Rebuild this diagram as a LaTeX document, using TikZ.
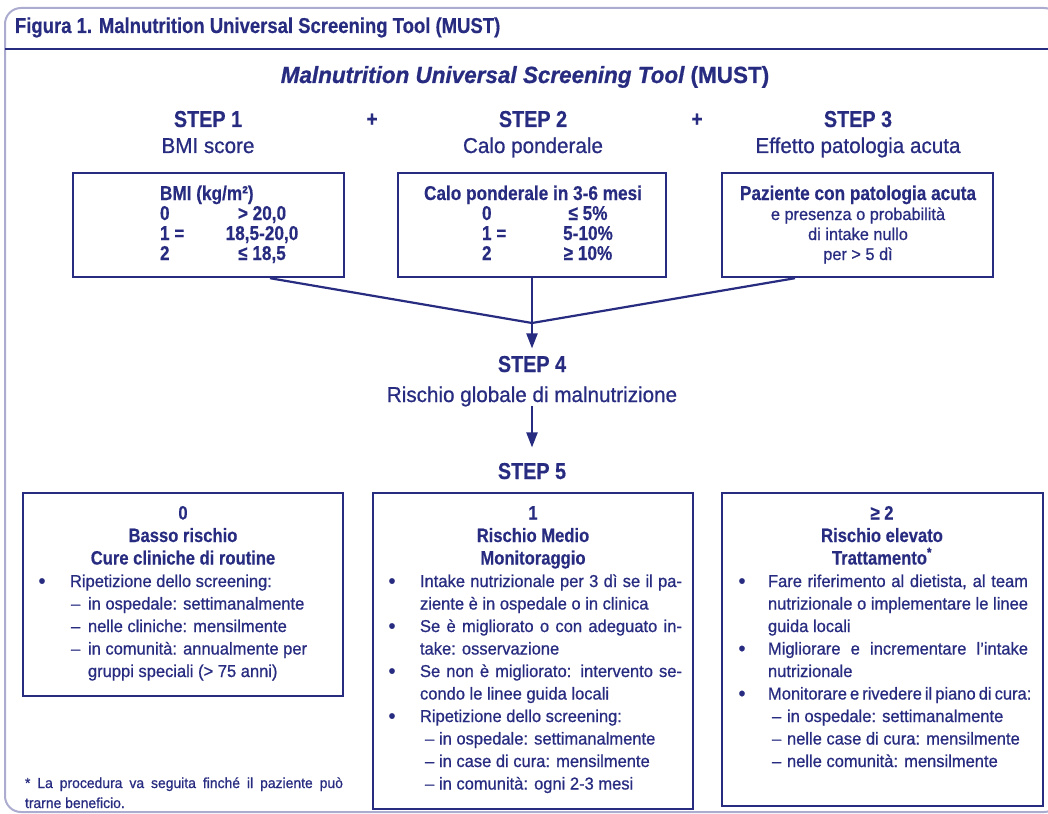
\documentclass[tikz,border=0pt]{standalone}
\usepackage{fontspec}
\setmainfont{Liberation Sans}[FakeStretch=0.96, FakeBold=0.8]
\newfontfamily\cnd{Liberation Sans}[FakeStretch=0.86, FakeBold=0.4]
\usetikzlibrary{arrows.meta}
\definecolor{navy}{RGB}{40,44,128}
\definecolor{lav}{RGB}{172,172,208}
\newcommand\fs[2]{\fontsize{#1}{#2}\selectfont}
\newcommand\bd{\fs{17.2}{20}}
\newcommand\bh{\cnd\bfseries\fs{19.3}{22}}
\newcommand\tb{\cnd\bfseries\fs{20}{22}}
\newcommand\jl[2]{\makebox[#1][s]{#2}}
\begin{document}
\begin{tikzpicture}[x=1pt,y=-1pt,
 txt/.style={text=navy, inner sep=0pt, outer sep=0pt},
 bl/.style={txt, anchor=base west, font=\bd},
 bul/.style={txt, anchor=base, font=\fs{21}{22}},
 bc/.style={txt, anchor=base, font=\bh},
 tl/.style={txt, anchor=base west, font=\tb},
 tc/.style={txt, anchor=base, font=\tb},
 boxn/.style={draw=navy, line width=2.4pt, inner sep=0pt},
 conn/.style={draw=navy, line width=2.2pt},
 arr/.style={conn, -{Triangle[width=11pt,length=15pt]}},
]
\useasboundingbox (0,0) rectangle (1048,813);
\clip (0,0) rectangle (1048,813);
\draw[lav, line width=2pt, rounded corners=16pt] (5,8) rectangle (1060,812);
\draw[navy, line width=1.4pt] (5,49) -- (1048,49);

% header and title
\node[txt, anchor=base west, font=\cnd\bfseries\fs{21.5}{24}] (hdr) at (15,33) {Figura 1. Malnutrition Universal Screening Tool (MUST)};
\node[txt, anchor=base, font=\bfseries\fs{23.4}{26}] (ttl) at (525,83) {\itshape Malnutrition Universal Screening Tool \upshape(MUST)};

% steps 1-3
\node[txt, anchor=base, font=\cnd\bfseries\fs{23}{26}] (s1) at (208,127) {STEP 1};
\node[txt, anchor=base, font=\fs{21.5}{24}] (s1b) at (208,153) {BMI score};
\node[txt, anchor=base, font=\cnd\bfseries\fs{23}{26}] (s2) at (533,127) {STEP 2};
\node[txt, anchor=base, font=\fs{21.5}{24}] (s2b) at (533,153) {Calo ponderale};
\node[txt, anchor=base, font=\cnd\bfseries\fs{23}{26}] (s3) at (858,127) {STEP 3};
\node[txt, anchor=base, font=\fs{21.5}{24}] (s3b) at (858,153) {Effetto patologia acuta};
\node[txt, font=\cnd\bfseries\fs{22}{24}] (p1) at (372,120) {+};
\node[txt, font=\cnd\bfseries\fs{22}{24}] (p2) at (697,120) {+};

% top boxes
\node[boxn, minimum width=271pt, minimum height=104pt] (b1) at (208.5,225) {};
\node[boxn, minimum width=268pt, minimum height=104pt] (b2) at (532,225) {};
\node[boxn, minimum width=271pt, minimum height=104pt] (b3) at (857.5,225) {};

\node[tl] (b1h) at (160,200) {BMI (kg/m²)};
\node[tl] (b1r0) at (160,220) {0};
\node[tl] (b1r1) at (160,240) {1 =};
\node[tl] (b1r2) at (160,260) {2};
\node[tc] (b1v0) at (262,220) {> 20,0};
\node[tc] (b1v1) at (262,240) {18,5-20,0};
\node[tc] (b1v2) at (262,260) {≤ 18,5};

\node[tc] (b2h) at (533,200) {Calo ponderale in 3-6 mesi};
\node[tl] (b2r0) at (482,220) {0};
\node[tl] (b2r1) at (482,240) {1 =};
\node[tl] (b2r2) at (482,260) {2};
\node[tc] (b2v0) at (588,220) {≤ 5\%};
\node[tc] (b2v1) at (588,240) {5-10\%};
\node[tc] (b2v2) at (588,260) {≥ 10\%};

\node[tc] (b3h) at (858,200) {Paziente con patologia acuta};
\node[txt, anchor=base, font=\fs{17}{20}] (b3l1) at (858,220) {e presenza o probabilità};
\node[txt, anchor=base, font=\fs{17}{20}] (b3l2) at (858,240) {di intake nullo};
\node[txt, anchor=base, font=\fs{17}{20}] (b3l3) at (858,260) {per > 5 dì};

% steps 4-5
\node[txt, anchor=base, font=\cnd\bfseries\fs{23}{26}] (s4) at (532,372) {STEP 4};
\node[txt, anchor=base, font=\fs{21.5}{24}] (rg) at (532,402) {Rischio globale di malnutrizione};
\node[txt, anchor=base, font=\cnd\bfseries\fs{23}{26}] (s5) at (532,479) {STEP 5};

\coordinate (j) at (532,323);
\draw[conn] ([xshift=61.5pt]b1.south) -- (j);
\draw[conn] ([xshift=-62.5pt]b3.south) -- (j);
\draw[arr] (b2.south) -- ([yshift=7.5pt]s4.north);
\draw[arr] (rg.south) -- ([yshift=15.5pt]s5.north);

% bottom boxes
\node[boxn, minimum width=320pt, minimum height=203pt] (bA) at (183,594.5) {};
\node[boxn, minimum width=320pt, minimum height=316pt] (bB) at (533,651) {};
\node[boxn, minimum width=321pt, minimum height=313pt] (bC) at (882.5,649.5) {};

% box A
\node[bc] (a0) at (183,519.5) {0};
\node[bc] (a1) at (183,542) {Basso rischio};
\node[bc] (a2) at (183,564.5) {Cure cliniche di routine};
\node[bul] (a3b) at (42,588) {•};
\node[bl] (a3) at (70,587) {Ripetizione dello screening:};
\node[bl] (a4d) at (71,609.5) {–};
\node[bl] (a4) at (88,609.5) {in ospedale: settimanalmente};
\node[bl] (a5d) at (71,632) {–};
\node[bl] (a5) at (88,632) {nelle cliniche: mensilmente};
\node[bl] (a6d) at (71,654.5) {–};
\node[bl] (a6) at (88,654.5) {in comunità: annualmente per};
\node[bl] (a7) at (88,677) {gruppi speciali (> 75 anni)};

% box B
\node[bc] (m0) at (533,519.5) {1};
\node[bc] (m1) at (533,542) {Rischio Medio};
\node[bc] (m2) at (533,564.5) {Monitoraggio};
\node[bul] (m3b) at (392,588) {•};
\node[bl] (m3) at (420,587) {\jl{262pt}{Intake nutrizionale per 3 dì se il pa-}};
\node[bl] (m4) at (420,609.5) {ziente è in ospedale o in clinica};
\node[bul] (m5b) at (392,633) {•};
\node[bl] (m5) at (420,632) {\jl{262pt}{Se è migliorato o con adeguato in-}};
\node[bl] (m6) at (420,654.5) {take: osservazione};
\node[bul] (m7b) at (392,678) {•};
\node[bl] (m7) at (420,677) {\jl{262pt}{Se non è migliorato: intervento se-}};
\node[bl] (m8) at (420,699.5) {condo le linee guida locali};
\node[bul] (m9b) at (392,723) {•};
\node[bl] (m9) at (420,722) {Ripetizione dello screening:};
\node[bl] (m10d) at (425,744.5) {–};
\node[bl] (m10) at (439,744.5) {in ospedale: settimanalmente};
\node[bl] (m11d) at (425,767) {–};
\node[bl] (m11) at (439,767) {in case di cura: mensilmente};
\node[bl] (m12d) at (425,789.5) {–};
\node[bl] (m12) at (439,789.5) {in comunità: ogni 2-3 mesi};

% box C
\node[bc] (h0) at (882,519.5) {≥ 2};
\node[bc] (h1) at (882,542) {Rischio elevato};
\node[bc] (h2) at (882,564.5) {Trattamento\textsuperscript{*}};
\node[bul] (h3b) at (742,588) {•};
\node[bl] (h3) at (768,587) {\jl{260pt}{Fare riferimento al dietista, al team}};
\node[bl] (h4) at (768,609.5) {\jl{260pt}{nutrizionale o implementare le linee}};
\node[bl] (h5) at (768,632) {guida locali};
\node[bul] (h6b) at (742,655.5) {•};
\node[bl] (h6) at (768,654.5) {\jl{260pt}{Migliorare e incrementare l’intake}};
\node[bl] (h7) at (768,677) {nutrizionale};
\node[bul] (h8b) at (742,700.5) {•};
\node[bl] (h8) at (768,699.5) {\jl{260pt}{Monitorare e rivedere il piano di cura:}};
\node[bl] (h9d) at (772,722) {–};
\node[bl] (h9) at (787,722) {in ospedale: settimanalmente};
\node[bl] (h10d) at (772,744.5) {–};
\node[bl] (h10) at (787,744.5) {nelle case di cura: mensilmente};
\node[bl] (h11d) at (772,767) {–};
\node[bl] (h11) at (787,767) {nelle comunità: mensilmente};

% footnote
\node[txt, anchor=base west, font=\fs{14.5}{17}] (fn1) at (25,788) {\jl{318pt}{* La procedura va seguita finché il paziente può}};
\node[txt, anchor=base west, font=\fs{14.5}{17}] (fn2) at (25,808) {trarne beneficio.};
\end{tikzpicture}
\end{document}
